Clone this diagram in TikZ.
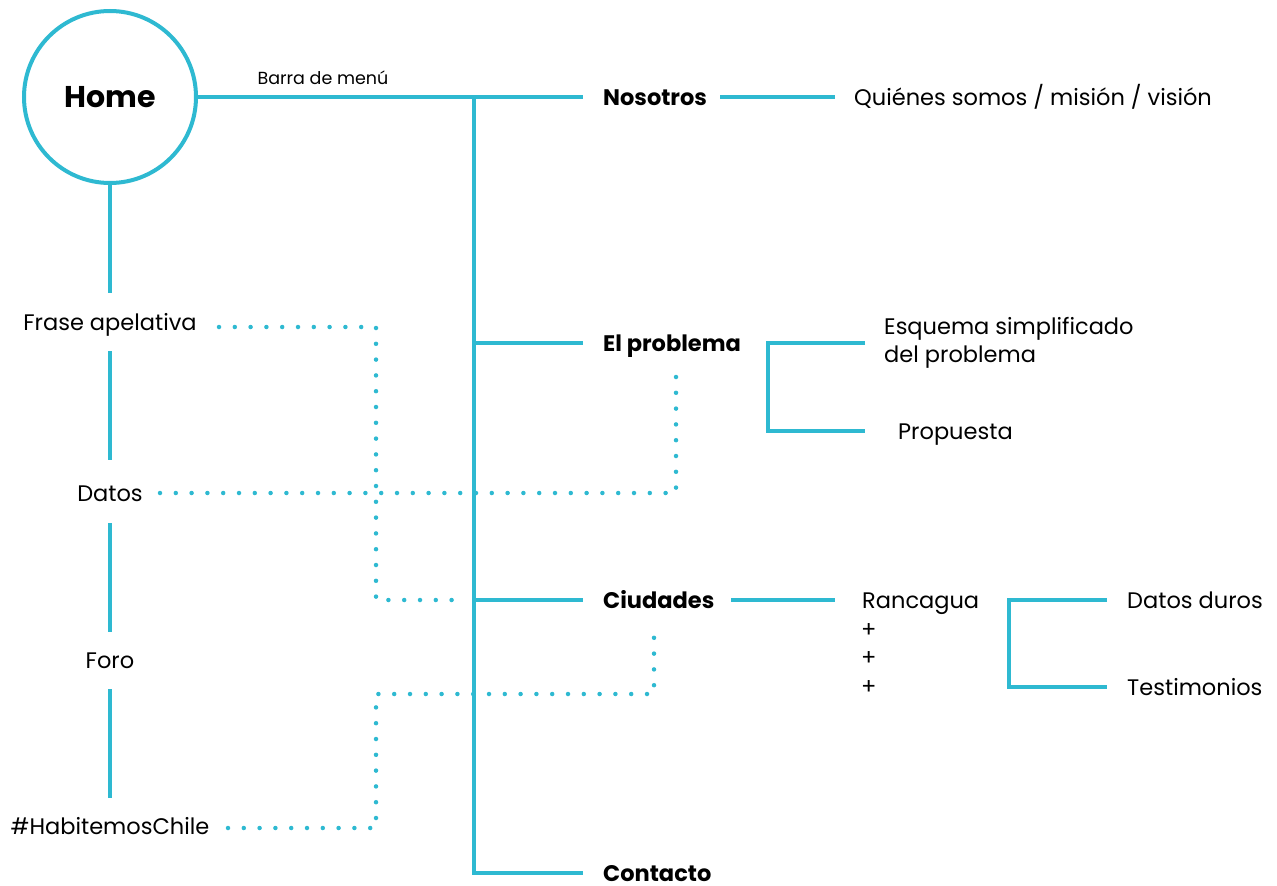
\documentclass[tikz,border=0pt]{standalone}
\usepackage{fontspec}
\setmainfont{Poppins}
\definecolor{menucyan}{HTML}{2EB9D1}
\begin{document}
\begin{tikzpicture}[x=1pt, y=-1pt, font=\fontsize{22.5}{27}\selectfont]
%% the sitemap is drawn in pixel units of the sketch, y grows downwards
%% text nodes are anchored at their left edge so the branches can stop short of them
\tikzstyle{link}=[draw=menucyan, line width=4pt]
\tikzstyle{dots}=[draw=menucyan, line width=4.5pt, line cap=round, dash pattern=on 0pt off 15.8pt]
\tikzstyle{home}=[circle, draw=menucyan, line width=4pt, minimum size=172pt, font=\fontsize{30}{36}\selectfont\bfseries]
\tikzstyle{page}=[anchor=west, inner sep=0pt, text height=16pt, text depth=0pt, font=\fontsize{22.5}{27}\selectfont\bfseries]
\tikzstyle{item}=[anchor=west, inner sep=0pt, text height=16pt, text depth=0pt]
\tikzstyle{block}=[inner sep=0pt, text height=16pt, text depth=0pt]
\useasboundingbox (0,0) rectangle (1277,886);
%% Home and the menu bar %%
\node[home] at (110,97) (Home) {Home};
\node[font=\fontsize{17.5}{21}\selectfont] at (323,78) (Barra) {Barra de menú};
\coordinate (Trunk) at (474,97);
\node[page] at (603,97) (Nosotros) {Nosotros};
\node[page] at (603,343) (Problema) {El problema};
\node[page] at (603,600) (Ciudades) {Ciudades};
\node[page] at (603,873) (Contacto) {Contacto};
\draw[link] (Home) -- ([xshift=-20pt]Nosotros.west);
\draw[link] (Trunk) |- ([xshift=-20pt]Contacto.west);
\draw[link] (Trunk |- Problema.west) -- ([xshift=-20pt]Problema.west);
\draw[link] (Trunk |- Ciudades.west) -- ([xshift=-20pt]Ciudades.west);
%% Nosotros %%
\node[item] at (854,97) (Quienes) {Quiénes somos / misión / visión};
\draw[link] (720,97) -- ([xshift=-19pt]Quienes.west);
%% El problema %%
\node[anchor=west, inner sep=0pt, align=left, font=\fontsize{22.5}{28}\selectfont] at (884,343) (Esquema) {Esquema simplificado\\del problema};
\node[item] at (898,431) (Propuesta) {Propuesta};
\coordinate (ProbFork) at (768,343);
\draw[link] (865,343) -- (ProbFork) |- ([xshift=-33pt]Propuesta.west);
%% Ciudades %%
\node[item] at (862,600) (Rancagua) {Rancagua};
\node[item] at (861,629) (PlusA) {+};
\node[item] at (861,657) (PlusB) {+};
\node[item] at (861,686) (PlusC) {+};
\draw[link] (731,600) -- ([xshift=-27pt]Rancagua.west);
\node[item] at (1127,600) (Duros) {Datos duros};
\node[item] at (1127,687) (Testimonios) {Testimonios};
\coordinate (CityFork) at (1009,600);
\draw[link] ([xshift=-20pt]Duros.west) -- (CityFork) |- ([xshift=-20pt]Testimonios.west);
%% home page blocks %%
\node[block] at (110,322) (Frase) {Frase apelativa};
\node[block] at (110,493) (Datos) {Datos};
\node[block] at (110,660) (Foro) {Foro};
\node[block] at (110,826) (Hashtag) {\#HabitemosChile};
\draw[link] (Home) -- (110,293);
\draw[link] (110,351) -- (110,460);
\draw[link] (110,523) -- (110,632);
\draw[link] (110,689) -- (110,798);
%% dotted links from the blocks to the pages %%
\coordinate (CityEnd) at (460,600);
\draw[dots] (219,327) -| (376,600) -- (CityEnd);
\draw[dots] (160,493) -| (676,372);
\draw[dots] (228,828) -| (376,694) -| (654,632);
\end{tikzpicture}
\end{document}
